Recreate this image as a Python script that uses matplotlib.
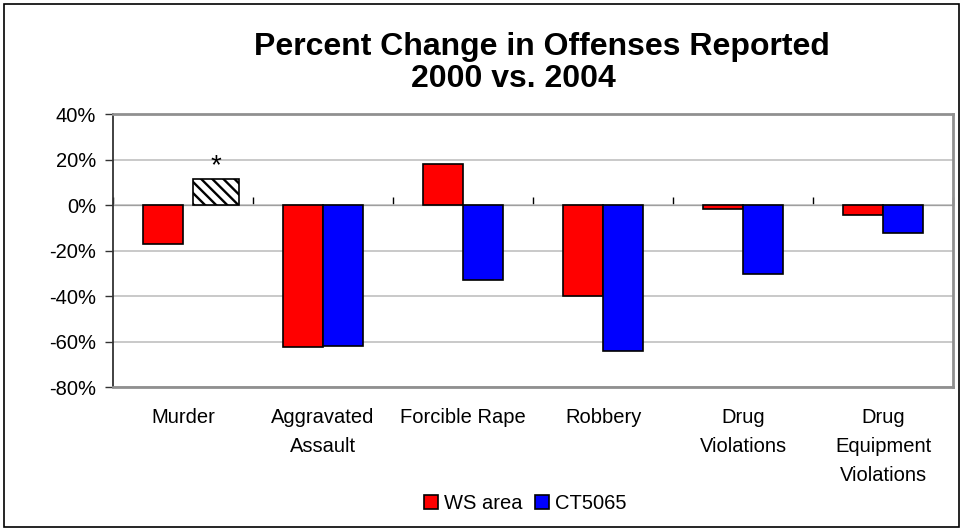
import matplotlib
matplotlib.use("Agg")
import matplotlib.pyplot as plt
import numpy as np
from matplotlib.patches import Rectangle, Patch

plt.rcParams['font.family'] = ['Liberation Sans', 'DejaVu Sans']
plt.rcParams['hatch.linewidth'] = 1.7

categories = ["Murder", "Aggravated\nAssault", "Forcible Rape", "Robbery",
              "Drug\nViolations", "Drug\nEquipment\nViolations"]
ws_area = [-17, -62.5, 18, -40, -1.8, -4.4]
ct5065 = [11.5, -62, -33, -64, -30.3, -12]
ct_hatched = [True, False, False, False, False, False]
series_names = ["WS area", "CT5065"]
ytick_vals = [40, 20, 0, -20, -40, -60, -80]
title_lines = ["Percent Change in Offenses Reported", "2000 vs. 2004"]

fig = plt.figure(figsize=(9.64, 5.29), dpi=100)
fig.patches.append(Rectangle((0.004, 0.004), 0.991, 0.988, transform=fig.transFigure,
                             fill=False, edgecolor='black', linewidth=1.2))
ax = fig.add_axes([0.117, 0.268, 0.872, 0.516])

x = np.arange(len(categories))
w = 0.286
ymin, ymax = -80, 40

for i in range(len(categories)):
    ax.bar(x[i] - w / 2, ws_area[i], w, color='#ff0000', edgecolor='black', linewidth=1.2, zorder=3)
    if ct_hatched[i]:
        ax.bar(x[i] + 0.236, ct5065[i], 0.329, color='white', edgecolor='black',
               hatch='\\\\\\', linewidth=1.2, zorder=3)
        ax.text(x[i] + 0.236, ct5065[i] + 5.5, "*", ha='center', va='center', fontsize=20)
    else:
        ax.bar(x[i] + w / 2, ct5065[i], w, color='#0000ff', edgecolor='black', linewidth=1.2, zorder=3)

ax.set_xlim(-0.5, len(categories) - 0.5)
ax.set_ylim(ymin, ymax)
ax.set_yticks(ytick_vals)
ax.set_yticklabels([f"{v}%" for v in ytick_vals], fontsize=14.5)
ax.yaxis.grid(True, color='#c0c0c0', linewidth=1.2, zorder=0)
ax.set_axisbelow(True)
ax.tick_params(axis='y', direction='out', length=6, width=1, color='#333333', pad=6)

ax.set_xticks(x)
ax.set_xticklabels(categories, fontsize=14.5, va='top', linespacing=1.68)
ax.tick_params(axis='x', length=0, pad=15)

for s in ['top', 'right', 'bottom']:
    ax.spines[s].set_color('#909090')
    ax.spines[s].set_linewidth(2)
ax.spines['left'].set_color('#333333')
ax.spines['left'].set_linewidth(1.3)

# zero axis with category boundary ticks
sec = ax.secondary_xaxis((0 - ymin) / (ymax - ymin))
sec.set_xticks(np.arange(-0.5, len(categories), 1.0))
sec.set_xticklabels([])
sec.tick_params(direction='out', length=6, width=1, color='black')
sec.spines['bottom'].set_color('black')
sec.spines['bottom'].set_linewidth(1.2)

fig.text(0.562, 0.912, title_lines[0], ha='center', va='center', fontsize=23, fontweight='bold')
fig.text(0.533, 0.850, title_lines[1], ha='center', va='center', fontsize=23, fontweight='bold')

handles = [Patch(facecolor='#ff0000', edgecolor='black', linewidth=1.2),
           Patch(facecolor='#0000ff', edgecolor='black', linewidth=1.2)]
fig.legend(handles, series_names, loc='center', bbox_to_anchor=(0.545, 0.048), ncol=2,
           frameon=False, fontsize=14.5, handlelength=0.7, handleheight=0.7,
           handletextpad=0.3, columnspacing=0.6)

fig.savefig("out.png", dpi=100)
